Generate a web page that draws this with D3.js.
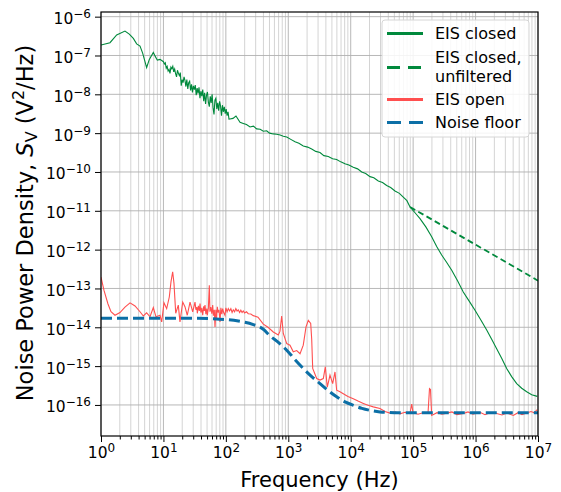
<!DOCTYPE html>
<html>
<head>
<meta charset="utf-8">
<script src="https://cdn.jsdelivr.net/npm/d3@7"></script>
<style>
  body { margin: 0; background: #fff; }
  text { font-family: "DejaVu Sans", sans-serif; }
</style>
</head>
<body>
<script>
// values, as decade exponents (log10 f, log10 S)
const closedLogF = [0, 0.144, 0.251, 0.384, 0.453, 0.518, 0.571, 0.625, 0.667, 0.731, 0.774, 0.838, 0.865, 0.902, 0.945,
  1.000, 1.015, 1.030, 1.045, 1.060, 1.075, 1.090, 1.105, 1.120, 1.135, 1.150, 1.165, 1.180, 1.195, 1.210, 1.225, 1.240, 1.255,
  1.270, 1.285, 1.300, 1.315, 1.330, 1.345, 1.360, 1.375, 1.390, 1.405, 1.420, 1.435, 1.450, 1.465, 1.480, 1.495, 1.510, 1.525,
  1.540, 1.555, 1.570, 1.585, 1.600, 1.615, 1.630, 1.645, 1.660, 1.675, 1.690, 1.705, 1.720, 1.735, 1.750, 1.765, 1.780, 1.795,
  1.810, 1.825, 1.840, 1.855, 1.870, 1.885, 1.900, 1.915, 1.930, 1.945, 1.960, 1.975, 1.990, 2.005, 2.020, 2.035, 2.050,
  2.114, 2.162, 2.227, 2.279, 2.33, 2.387, 2.44,
  2.494, 2.55, 2.60, 2.654, 2.70, 2.76, 2.814, 2.87, 2.92, 2.975, 3.04, 3.108, 3.17, 3.240, 3.31, 3.375, 3.44, 3.508, 3.57,
  3.641, 3.71, 3.775, 3.84, 3.908, 3.97, 4.041, 4.11, 4.176, 4.24, 4.309, 4.37, 4.442, 4.51, 4.576, 4.64, 4.709, 4.78, 4.842,
  4.90, 4.950, 5.030, 5.110, 5.206, 5.297, 5.377, 5.457, 5.538, 5.618, 5.711, 5.803, 5.895, 5.991, 6.087, 6.178, 6.258, 6.338,
  6.418, 6.498, 6.578, 6.659, 6.739, 6.819, 6.899, 6.989];
const closedLogS = [-6.73, -6.67, -6.47, -6.37, -6.45, -6.56, -6.70, -6.76, -6.94, -7.31, -7.10, -6.92, -7.01, -7.12, -7.10,
  -7.16, -7.22, -7.19, -7.33, -7.28, -7.40, -7.36, -7.46, -7.30, -7.34, -7.28, -7.42, -7.35, -7.47, -7.55, -7.38, -7.46, -7.52,
  -7.44, -7.78, -7.62, -7.70, -7.55, -7.64, -7.80, -7.62, -7.86, -7.70, -7.66, -7.90, -7.74, -7.95, -7.78, -7.88, -7.76, -8.02,
  -7.84, -7.98, -7.82, -8.10, -7.92, -8.05, -7.88, -8.18, -7.96, -8.25, -8.02, -7.94, -8.20, -8.32, -8.05, -8.22, -8.00, -8.35,
  -8.52, -8.15, -8.10, -8.38, -8.22, -8.42, -8.18, -8.30, -8.55, -8.28, -8.45, -8.32, -8.50, -8.38, -8.55, -8.45, -8.64,
  -8.62, -8.56, -8.72, -8.75, -8.78, -8.84, -8.82,
  -8.89, -8.90, -8.95, -8.94, -9.00, -9.02, -9.03, -9.05, -9.08, -9.10, -9.16, -9.22, -9.26, -9.33, -9.36, -9.41, -9.47, -9.50,
  -9.58, -9.60, -9.66, -9.68, -9.74, -9.79, -9.82, -9.88, -9.92, -10.00, -10.04, -10.12, -10.15, -10.23, -10.27, -10.35, -10.40,
  -10.49, -10.55, -10.65, -10.74, -10.90, -11.05, -11.20, -11.42, -11.67, -11.92, -12.14, -12.33, -12.53, -12.80, -13.09, -13.32,
  -13.56, -13.82, -14.07, -14.31, -14.55, -14.80, -15.06, -15.27, -15.45, -15.57, -15.66, -15.74, -15.78];

const unfilteredLogF = [4.950, 6.084, 7.0];
const unfilteredLogS = [-10.90, -11.95, -12.80];

const openLogF = [0, 0.048, 0.112, 0.160, 0.224, 0.304, 0.384, 0.465, 0.545, 0.625, 0.678, 0.731, 0.785, 0.838, 0.881, 0.945,
  0.972, 1.009, 1.052, 1.094, 1.121, 1.148, 1.169, 1.197, 1.238, 1.265, 1.309, 1.345, 1.382, 1.426, 1.469,
  1.506, 1.520, 1.535, 1.543, 1.560, 1.575, 1.586, 1.600, 1.615, 1.629, 1.645, 1.655, 1.666, 1.680, 1.695, 1.703, 1.720, 1.735,
  1.745, 1.760, 1.775, 1.789, 1.800, 1.815, 1.826, 1.840, 1.850, 1.863, 1.875, 1.890, 1.906, 1.920, 1.935, 1.949, 1.965, 1.986,
  2.000, 2.020, 2.039, 2.06, 2.08, 2.10, 2.119, 2.14, 2.16, 2.18, 2.199, 2.22, 2.24, 2.26, 2.279, 2.30, 2.33, 2.359, 2.40, 2.439,
  2.515, 2.600, 2.675, 2.760, 2.840, 2.867, 2.894, 2.920, 2.975, 3.027, 3.080, 3.135, 3.188, 3.240, 3.284, 3.321, 3.359, 3.375, 3.391,
  3.455, 3.508, 3.561, 3.593, 3.625, 3.668, 3.711, 3.748, 3.775, 3.828, 3.881, 3.956, 4.041, 4.117, 4.202, 4.277, 4.362, 4.469,
  4.549, 4.629, 4.709, 4.789, 4.869, 4.950, 4.977, 4.998, 5.078, 5.158, 5.238, 5.262, 5.278, 5.297, 5.382, 5.462, 5.538, 5.622,
  5.702, 5.803, 5.879, 5.959, 6.071, 6.151, 6.231, 6.338, 6.423, 6.503, 6.604, 6.679, 6.744, 6.819, 6.888, 6.936, 6.989];
const openLogS = [-12.71, -13.05, -13.40, -13.60, -13.69, -13.62, -13.48, -13.37, -13.45, -13.60, -13.71, -13.63, -13.73, -13.49,
  -13.73, -13.69, -13.86, -13.37, -13.52, -13.22, -12.83, -12.57, -12.87, -13.64, -13.43, -13.86, -13.35, -13.47, -13.69, -13.35,
  -13.60,
  -13.35, -13.55, -13.48, -13.64, -13.45, -13.58, -13.39, -13.62, -13.50, -13.69, -13.46, -13.58, -13.43, -13.66, -13.52, -13.69,
  -13.50, -12.92, -13.60, -13.48, -13.65, -13.43, -13.70, -13.55, -13.99, -13.55, -13.80, -13.47, -13.62, -13.55, -13.86, -13.50,
  -13.66, -13.52, -13.62, -13.69, -13.50, -13.60, -13.52, -13.58, -13.52, -13.62, -13.55, -13.60, -13.52, -13.58, -13.55, -13.62,
  -13.56, -13.62, -13.58, -13.63, -13.60, -13.65, -13.66, -13.70,
  -13.74, -13.92, -14.00, -14.12, -14.20, -14.10, -13.71, -14.16, -14.42, -14.46, -14.63,
  -14.60, -14.68, -14.46, -13.99, -13.82, -13.90, -14.30, -15.06, -15.32, -15.36, -15.32, -15.02, -15.54, -15.23, -15.45, -15.15,
  -15.62, -15.66, -15.71, -15.78, -15.84, -15.90, -15.96, -16.01, -16.05, -16.09, -16.17, -16.21, -16.18, -16.23, -16.19, -16.21,
  -15.98, -16.20, -16.24, -16.20, -16.22, -15.58, -15.60, -16.27, -16.20, -16.24, -16.21, -16.18, -16.25, -16.22, -16.18, -16.24,
  -16.19, -16.25, -16.20, -16.22, -16.26, -16.21, -16.27, -16.20, -16.25, -16.21, -16.17, -16.20, -16.12];

const floorLogF = [0, 1.5, 1.9, 2.2, 2.44, 2.6, 2.707, 2.85, 2.975, 3.1, 3.24, 3.375, 3.508, 3.64, 3.775, 3.91, 4.041, 4.18,
  4.309, 4.47, 4.7, 7.0];
const floorLogS = [-13.77, -13.77, -13.79, -13.84, -13.93, -14.05, -14.22, -14.40, -14.59, -14.82, -15.06, -15.27, -15.45,
  -15.63, -15.79, -15.92, -16.01, -16.09, -16.14, -16.18, -16.20, -16.20];

const xTickExp = [0, 1, 2, 3, 4, 5, 6, 7];
const yTickExp = [-16, -15, -14, -13, -12, -11, -10, -9, -8, -7, -6];
const legendLabels = [["EIS closed"], ["EIS closed,", "unfiltered"], ["EIS open"], ["Noise floor"]];

const green = "#00893c", red = "#ff4f4f", blue = "#0c6fa6";

const width = 561, height = 492;
const margin = {top: 12, right: 23, bottom: 56, left: 101};

const svg = d3.select("body").append("svg")
    .attr("width", width).attr("height", height);

const x = d3.scaleLog().domain([1, 1e7]).range([margin.left, width - margin.right]);
const y = d3.scaleLog().domain([Math.pow(10, -16.8), Math.pow(10, -5.88)])
    .range([height - margin.bottom, margin.top]);

const pts = (lf, ls) => lf.map((f, i) => [Math.pow(10, f), Math.pow(10, ls[i])]);

// grid
const xMajor = xTickExp.map(e => Math.pow(10, e));
const xMinor = [];
xTickExp.slice(0, -1).forEach(e => { for (let k = 2; k < 10; k++) xMinor.push(k * Math.pow(10, e)); });
const yMajor = yTickExp.map(e => Math.pow(10, e));

const grid = svg.append("g");
grid.selectAll(".vminor").data(xMinor).enter().append("line")
    .attr("x1", d => x(d)).attr("x2", d => x(d))
    .attr("y1", margin.top).attr("y2", height - margin.bottom)
    .attr("stroke", "#cfcfcf").attr("stroke-width", 0.9);
grid.selectAll(".vmajor").data(xMajor).enter().append("line")
    .attr("x1", d => x(d)).attr("x2", d => x(d))
    .attr("y1", margin.top).attr("y2", height - margin.bottom)
    .attr("stroke", "#b0b0b0").attr("stroke-width", 0.9);
grid.selectAll(".hmajor").data(yMajor).enter().append("line")
    .attr("y1", d => y(d)).attr("y2", d => y(d))
    .attr("x1", margin.left).attr("x2", width - margin.right)
    .attr("stroke", "#b0b0b0").attr("stroke-width", 0.9);

// curves
svg.append("clipPath").attr("id", "clip").append("rect")
    .attr("x", margin.left).attr("y", margin.top)
    .attr("width", width - margin.left - margin.right)
    .attr("height", height - margin.top - margin.bottom);

const line = d3.line().x(d => x(d[0])).y(d => y(d[1]));
const plot = svg.append("g").attr("clip-path", "url(#clip)");

plot.append("path").datum(pts(unfilteredLogF, unfilteredLogS))
    .attr("d", line).attr("fill", "none").attr("stroke", green)
    .attr("stroke-width", 1.8).attr("stroke-dasharray", "6,3.5");
plot.append("path").datum(pts(closedLogF, closedLogS))
    .attr("d", line).attr("fill", "none").attr("stroke", green).attr("stroke-width", 1.1);
plot.append("path").datum(pts(openLogF, openLogS))
    .attr("d", line).attr("fill", "none").attr("stroke", red).attr("stroke-width", 1.1);
plot.append("path").datum(pts(floorLogF, floorLogS))
    .attr("d", line.curve(d3.curveMonotoneX)).attr("fill", "none").attr("stroke", blue)
    .attr("stroke-width", 3).attr("stroke-dasharray", "11,5");

// axes
function supLabel(sel, base, exp) {
  sel.text(null);
  sel.append("tspan").text(base);
  sel.append("tspan").attr("dy", "-0.5em").attr("font-size", 12).text(exp);
}

const xAxis = svg.append("g")
    .attr("transform", "translate(0," + (height - margin.bottom) + ")")
    .call(d3.axisBottom(x).tickValues(xMajor).tickSize(6).tickPadding(5));
xAxis.selectAll("text").attr("font-size", 15.5).attr("fill", "#000")
    .each(function(d) { supLabel(d3.select(this), "10", String(Math.round(Math.log10(d)))); });
svg.append("g")
    .attr("transform", "translate(0," + (height - margin.bottom) + ")")
    .call(d3.axisBottom(x).tickValues(xMinor).tickSize(3.5).tickFormat(""))
    .select(".domain").remove();

const yAxis = svg.append("g")
    .attr("transform", "translate(" + margin.left + ",0)")
    .call(d3.axisLeft(y).tickValues(yMajor).tickSize(6).tickPadding(4));
yAxis.selectAll("text").attr("font-size", 15.5).attr("fill", "#000").attr("dy", "0.45em")
    .each(function(d) { supLabel(d3.select(this), "10", "\u2212" + Math.abs(Math.round(Math.log10(d)))); });
svg.selectAll(".domain").remove();
svg.selectAll(".tick line").attr("stroke", "#000").attr("stroke-width", 1);

// frame
svg.append("rect")
    .attr("x", margin.left).attr("y", margin.top)
    .attr("width", width - margin.left - margin.right)
    .attr("height", height - margin.top - margin.bottom)
    .attr("fill", "none").attr("stroke", "#000").attr("stroke-width", 1.2);

// axis titles
svg.append("text")
    .attr("x", (margin.left + width - margin.right) / 2).attr("y", 487)
    .attr("text-anchor", "middle").attr("font-size", 21).text("Frequency (Hz)");

const yl = svg.append("text")
    .attr("transform", "translate(33," + ((margin.top + height - margin.bottom) / 2 - 1) + ") rotate(-90)")
    .attr("text-anchor", "middle").attr("font-size", 22.5);
yl.append("tspan").text("Noise Power Density, ");
yl.append("tspan").attr("font-style", "italic").text("S");
yl.append("tspan").attr("font-size", 16).attr("dy", 4).text("V");
yl.append("tspan").attr("dy", -4).text(" (V");
yl.append("tspan").attr("font-size", 16).attr("dy", -9).text("2");
yl.append("tspan").attr("dy", 9).text("/Hz)");

// legend
const lg = svg.append("g");
lg.append("rect").attr("x", 382).attr("y", 20).attr("width", 147).attr("height", 117)
    .attr("rx", 3).attr("fill", "#fff").attr("fill-opacity", 0.85)
    .attr("stroke", "#d6d6d6").attr("stroke-width", 1);
const legendStyle = [
  {color: green, dash: null, w: 3, ly: 33.5, ty: [33.5]},
  {color: green, dash: "13,8", w: 3, ly: 67.5, ty: [57, 76]},
  {color: red, dash: null, w: 3, ly: 99.5, ty: [99.5]},
  {color: blue, dash: "14,8", w: 3, ly: 122.5, ty: [122.5]}
];
legendLabels.forEach((lab, i) => {
  const s = legendStyle[i];
  lg.append("line").attr("x1", 387).attr("x2", 423).attr("y1", s.ly).attr("y2", s.ly)
      .attr("stroke", s.color).attr("stroke-width", s.w)
      .attr("stroke-dasharray", s.dash);
  lab.forEach((t, j) => {
    lg.append("text").attr("x", 435).attr("y", s.ty[j]).attr("dy", "0.36em")
        .attr("font-size", 16).text(t);
  });
});
</script>
</body>
</html>
